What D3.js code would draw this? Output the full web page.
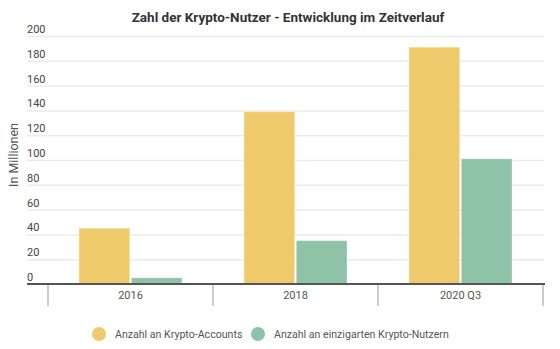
<!DOCTYPE html>
<html><head><meta charset="utf-8">
<script src="https://cdn.jsdelivr.net/npm/d3@7"></script>
<style>body{margin:0;background:#fff;font-family:Roboto,sans-serif}</style>
</head><body><svg id="c" width="560" height="349"></svg>
<script>
const categories = ["2016", "2018", "2020 Q3"];
const seriesNames = ["Anzahl an Krypto-Accounts", "Anzahl an einzigarten Krypto-Nutzern"];
const accounts = [45, 139, 191];
const users = [5, 35, 101];
const yTicks = [0, 20, 40, 60, 80, 100, 120, 140, 160, 180, 200];
const colors = ["#efca6a", "#8ec3a7"];

const svg = d3.select("#c");
const y = d3.scaleLinear().domain([0, 200]).range([284, 36]);
const x = d3.scaleBand().domain(categories).range([48, 543]);
const xs = d3.scaleBand().domain(seriesNames).range([31, 134]).paddingInner(0.03);
const data = categories.map((c, i) => ({c, v: [accounts[i], users[i]]}));

svg.append("text").attr("x", 288).attr("y", 22).attr("text-anchor", "middle")
  .attr("font-size", 13.5).attr("font-weight", "bold").attr("fill", "#333")
  .text("Zahl der Krypto-Nutzer - Entwicklung im Zeitverlauf");

const yAxis = svg.append("g").call(d3.axisLeft(y).tickValues(yTicks).tickSize(0));
yAxis.select(".domain").remove();
yAxis.selectAll(".tick line").remove();
yAxis.selectAll(".tick").each(function(d){
  const g = d3.select(this);
  if (d > 0) g.insert("line", "text").attr("x1", 27).attr("x2", 544).attr("stroke", "#ebebeb").attr("stroke-width", 1.5);
  g.select("text").attr("x", 27).attr("dy", -3.5).attr("text-anchor", "start")
    .attr("font-family", "Roboto").attr("font-size", 11).attr("fill", "#444");
});

svg.append("text").attr("transform", "translate(18,155) rotate(-90)").attr("text-anchor", "middle")
  .attr("font-size", 12.5).attr("fill", "#555").text("In Millionen");

const groups = svg.append("g").selectAll("g").data(data).join("g")
  .attr("transform", d => `translate(${x(d.c)},0)`);
groups.selectAll("rect").data(d => d.v.map((v, j) => ({v, s: seriesNames[j], j}))).join("rect")
  .attr("x", d => xs(d.s)).attr("width", xs.bandwidth())
  .attr("y", d => y(d.v)).attr("height", d => y(0) - y(d.v))
  .attr("fill", d => colors[d.j]).attr("stroke", "#fff").attr("stroke-opacity", 0.35).attr("stroke-width", 1);

const xAxis = svg.append("g").attr("transform", "translate(0,284)")
  .call(d3.axisBottom(x).tickSize(0).tickPadding(12));
xAxis.select(".domain").remove();
xAxis.selectAll(".tick text").attr("font-family", "Roboto").attr("font-size", 11).attr("fill", "#555").attr("dy", "0.35em").attr("y", 11);
xAxis.selectAll(".tick").attr("transform", d => `translate(${x(d) + x.bandwidth() / 2},0)`);
const bounds = categories.map(c => x(c)).concat([x.range()[1]]);
svg.append("g").selectAll("line").data(bounds).join("line")
  .attr("x1", d => d).attr("x2", d => d).attr("y1", 284).attr("y2", 306)
  .attr("stroke", "#999").attr("stroke-width", 1);
svg.append("line").attr("x1", 27).attr("x2", 545).attr("y1", 284).attr("y2", 284)
  .attr("stroke", "#555").attr("stroke-width", 2);

const legX = [99, 258];
const leg = svg.append("g").selectAll("g").data(seriesNames).join("g")
  .attr("transform", (d, i) => `translate(${legX[i]},334)`);
leg.append("circle").attr("r", 7).attr("fill", (d, i) => colors[i]);
leg.append("text").attr("x", 16).attr("y", 4).attr("font-size", 10.6).attr("fill", "#555").text(d => d);
</script></body></html>
